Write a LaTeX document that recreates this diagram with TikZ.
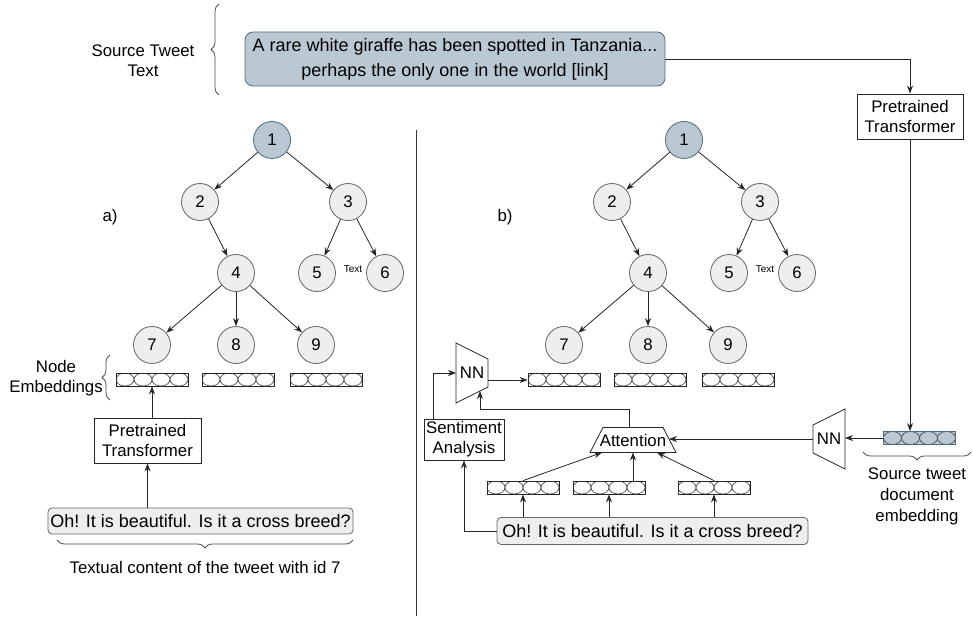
\documentclass[tikz,border=0pt]{standalone}
\usepackage{fontspec}
\setmainfont{Liberation Sans}
\usetikzlibrary{arrows.meta,decorations.pathreplacing}
\definecolor{tweetblue}{HTML}{BAC8D3}
\definecolor{rootline}{HTML}{4E6A80}
\definecolor{nodegrey}{HTML}{EEEEEE}
\definecolor{nodeline}{HTML}{666666}

\begin{document}
\begin{tikzpicture}[x=1pt,y=-1pt,
        every node/.style={font=\fontsize{16.8}{20}\selectfont},
        treenode/.style={circle,draw=nodeline,fill=nodegrey,minimum size=37,inner sep=0,line width=0.8pt},
        rootnode/.style={treenode,draw=rootline,fill=tweetblue},
        embbox/.style={draw=black!85,line width=0.8pt,minimum width=72,minimum height=13,inner sep=0,
            path picture={\foreach \k in {0,...,3}
                \draw[black!75,line width=0.6pt] ([xshift={(9+18*\k)*1pt}]path picture bounding box.west) ellipse [x radius=9pt,y radius=6.5pt];}},
        plainbox/.style={draw=black!85,line width=0.8pt,align=center,inner sep=2pt},
        tweetbox/.style={draw=nodeline,fill=nodegrey,rounded corners=4pt,line width=0.8pt,inner sep=0,font=\fontsize{18}{22}\selectfont},
        link/.style={-{Stealth[length=8pt,width=6pt]},line width=0.8pt,draw=black!85},
        brc/.style={decorate,decoration={brace,amplitude=8pt},line width=0.8pt,draw=black!70}]
    \useasboundingbox (0,0) rectangle (973,617);

    \foreach \s/\t in {0/a,412/b}{
        \begin{scope}[xshift=\s]
            \node[rootnode] (\t1) at (272,140) {1};
            \node[treenode] (\t2) at (200,202) {2};
            \node[treenode] (\t3) at (348,202) {3};
            \node[treenode] (\t4) at (236,273) {4};
            \node[treenode] (\t5) at (317,273) {5};
            \node[treenode] (\t6) at (385,273) {6};
            \node[treenode] (\t7) at (152,345) {7};
            \node[treenode] (\t8) at (236,345) {8};
            \node[treenode] (\t9) at (316,345) {9};
            \node[font=\fontsize{10}{12}\selectfont] (\t-lbl) at (353,269) {Text};
            \node[embbox] (\t e7) at (152,379.5) {};
            \node[embbox] (\t e8) at (238,379.5) {};
            \node[embbox] (\t e9) at (326,379.5) {};
            \foreach \u/\v in {1/2,1/3,2/4,3/5,3/6,4/7,4/8,4/9}
                \draw[link] (\t\u) -- (\t\v);
        \end{scope}
    }

    \node[align=center] (srclab) at (143,61) {Source Tweet\\Text};
    \draw[brc] (219,95) -- (219,4);
    \node[tweetbox,fill=tweetblue,draw=rootline,rounded corners=8pt,minimum width=420,minimum height=54,
        align=center,font=\fontsize{18}{25}\selectfont] (src) at (455,59)
        {A rare white giraffe has been spotted in Tanzania...\\perhaps the only one in the world [link]};
    \draw[line width=0.9pt,black!80] (416,130) -- (416,616);

    \node (alab) at (110,217) {a)};
    \node (blab) at (505,217) {b)};

    \draw[brc] (110,400) -- (110,355);
    \node[align=center] (nelab) at (56,378) {Node\\Embeddings};
    \node[plainbox,minimum width=107,minimum height=45] (ptl) at (147.5,440.5) {Pretrained\\Transformer};
    \node[tweetbox,minimum width=305,minimum height=26] (txta) at (200.5,521) {Oh! It is beautiful. Is it a cross breed?};
    \draw[brc] (353,540) -- (57,540);
    \node (txtlab) at (205,567) {Textual content of the tweet with id 7};
    \draw[link] (ptl.north -| ae7) -- (ae7.south);
    \draw[link] (txta.north -| ptl) -- (ptl.south);

    \node[plainbox,minimum width=106,minimum height=45] (ptr) at (910,116.5) {Pretrained\\Transformer};
    \node[embbox,fill=tweetblue,draw=rootline] (srcemb) at (919.5,438) {};
    \draw[brc] (971,452) -- (863,452);
    \node[align=center,font=\fontsize{16.8}{21}\selectfont] (srcemblab) at (917,496) {Source tweet\\document\\embedding};
    \draw[link] (src.east) -| (ptr.north);
    \draw[link] (ptr.south) -- (ptr.south |- srcemb.north);

    \node (nnr) at (829,439) {NN};
    \draw[line width=0.8pt,black!85] (nnr.center) ++(-16,-14) -- ++(32,-16) -- ++(0,60) -- ++(-32,-16) -- cycle;
    \node (att) at (633,440) {Attention};
    \draw[line width=0.8pt,black!85] (att.center) ++(-30,-12.5) -- ++(60,0) -- ++(13,25) -- ++(-86,0) -- cycle;
    \node (nnl) at (472,373) {NN};
    \draw[line width=0.8pt,black!85] (nnl.center) ++(-16,-30) -- ++(32,16) -- ++(0,28) -- ++(-32,16) -- cycle;
    \node[plainbox,minimum width=80,minimum height=41] (sent) at (464,439.5) {Sentiment\\Analysis};
    \node[tweetbox,minimum width=311,minimum height=27] (txtb) at (652.5,531) {Oh! It is beautiful. Is it a cross breed?};
    \node[embbox] (c1) at (523,487.5) {};
    \node[embbox] (c2) at (609,487.5) {};
    \node[embbox] (c3) at (714,487.5) {};

    \coordinate (nnr-e) at (845,438);
    \coordinate (nnr-w) at (813,439);
    \coordinate (att-e) at (669,439);
    \coordinate (att-n) at (629,427.5);
    \coordinate (att-b1) at (602,452.5);
    \coordinate (att-b2) at (633,452.5);
    \coordinate (att-b3) at (657,452.5);
    \coordinate (nnl-e) at (488,380);
    \coordinate (nnl-w) at (456,373);
    \coordinate (nnl-s) at (480,391);

    \draw[link] (srcemb.west) -- (nnr-e);
    \draw[link] (nnr-w) -- (att-e);
    \draw[link] (att-n) -- ++(0,-18.5) -| (nnl-s);
    \draw[link] (nnl-e) -- (nnl-e -| be7.west);
    \draw[link] ([xshift=-31pt]sent.north) |- (nnl-w);
    \draw[link] (txtb.west) -| (sent.south);
    \foreach \c in {1,2,3}
        \draw[link] (txtb.north -| c\c) -- (c\c.south);
    \draw[link] (c1.north) -- (att-b1);
    \draw[link] ([xshift=24pt]c2.north) -- (att-b2);
    \draw[link] (c3.north) -- (att-b3);
\end{tikzpicture}
\end{document}
